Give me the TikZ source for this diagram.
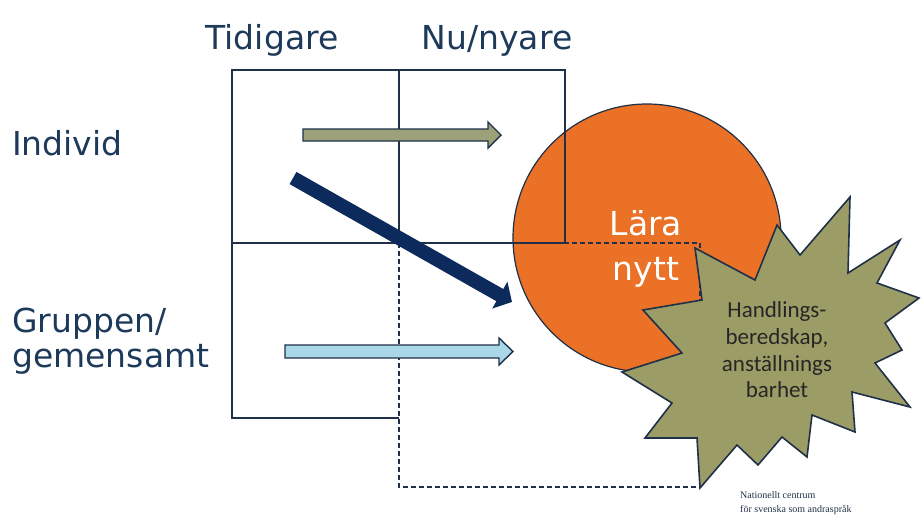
\documentclass[tikz,border=0pt]{standalone}
\usepackage{fontspec}
\setmainfont{DejaVu Sans}
\newfontfamily\starfont{Carlito}
\newfontfamily\logofont{Liberation Serif}
\usetikzlibrary{arrows.meta}

\definecolor{boxblue}{HTML}{1F3048}
\definecolor{textblue}{HTML}{1D3A5A}
\definecolor{arrownavy}{HTML}{0C2A5B}
\definecolor{learnorange}{HTML}{EA7125}
\definecolor{starolive}{HTML}{9C9D66}
\definecolor{arrowolive}{HTML}{9DA17A}
\definecolor{arrowsky}{HTML}{A9D7E8}

\begin{document}
\begin{tikzpicture}[x=1pt, y=-1pt,
    boxline/.style={draw=boxblue, line width=1.6pt},
    dashline/.style={draw=boxblue, line width=1.4pt, dash pattern=on 5pt off 3pt},
    blockarrow/.style={draw=boxblue, line width=1.4pt},
    sidetext/.style={text=textblue, font=\fontsize{33}{36}\selectfont, inner sep=0pt},
    logotext/.style={text=boxblue, font=\logofont\fontsize{10}{12}\selectfont, inner sep=0pt, anchor=base west}]
    \useasboundingbox (0,0) rectangle (921,515);

    % Circle for learning
    \draw[fill=learnorange, draw=boxblue, line width=1.2pt] (647,238) circle[radius=134pt];

    % Grid of boxes
    \draw[boxline] (232,70) rectangle (399,243);
    \draw[boxline] (399,243) -- (232,243) -- (232,418) -- (399,418);
    \draw[boxline] (399,70) rectangle (565,243);
    \draw[dashline] (399,243) rectangle (700,487);

    % Arrows
    \draw[blockarrow, fill=arrowolive] (303,129) -- (488,129) -- (488,122) -- (501,135)
        -- (488,148) -- (488,141) -- (303,141) -- cycle;
    \draw[blockarrow, fill=arrowsky] (285,345) -- (499,345) -- (499,338) -- (513,351.5)
        -- (499,365) -- (499,358) -- (285,358) -- cycle;
    \draw[arrownavy, line width=14pt, -{Triangle[length=14pt, width=30pt]}] (293,178) -- (512,302);

    % Star
    \draw[fill=starolive, draw=boxblue, line width=1.6pt]
        (695,248) -- (755,280) -- (777,225) -- (800,255) -- (850,197) -- (848,273)
        -- (900,240) -- (877,283) -- (919,298) -- (885,323) -- (902,350) -- (875,363)
        -- (910,407) -- (852,392) -- (855,432) -- (812,415) -- (807,457) -- (782,437)
        -- (758,465) -- (737,445) -- (700,488) -- (697,438) -- (645,438) -- (672,403)
        -- (622,372) -- (682,353) -- (643,310) -- (702,300) -- cycle;

    % Column and row labels
    \node[sidetext, anchor=base] (tidigare) at (272,49) {Tidigare};
    \node[sidetext, anchor=base] (nu) at (497,49) {Nu/nyare};
    \node[sidetext, anchor=base west] (individ) at (12,155) {Individ};
    \node[sidetext, anchor=base west] (gruppen) at (12,332) {Gruppen/};
    \node[sidetext, anchor=base west] (gemensamt) at (12,367) {gemensamt};

    % Texts in circle and star
    \node[sidetext, text=white, anchor=base] (lara) at (646,235) {Lära};
    \node[sidetext, text=white, anchor=base] (nytt) at (646,280) {nytt};
    \node[align=center, inner sep=0pt, text=black!85,
        font=\starfont\fontsize{23}{26.7}\selectfont] (handling) at (777,350)
        {Handlings-\\beredskap,\\anställnings\\barhet};

    % Logo text
    \node[logotext] (logo1) at (740,498) {Nationellt centrum};
    \node[logotext] (logo2) at (740,512) {för svenska som andraspråk};
\end{tikzpicture}
\end{document}
